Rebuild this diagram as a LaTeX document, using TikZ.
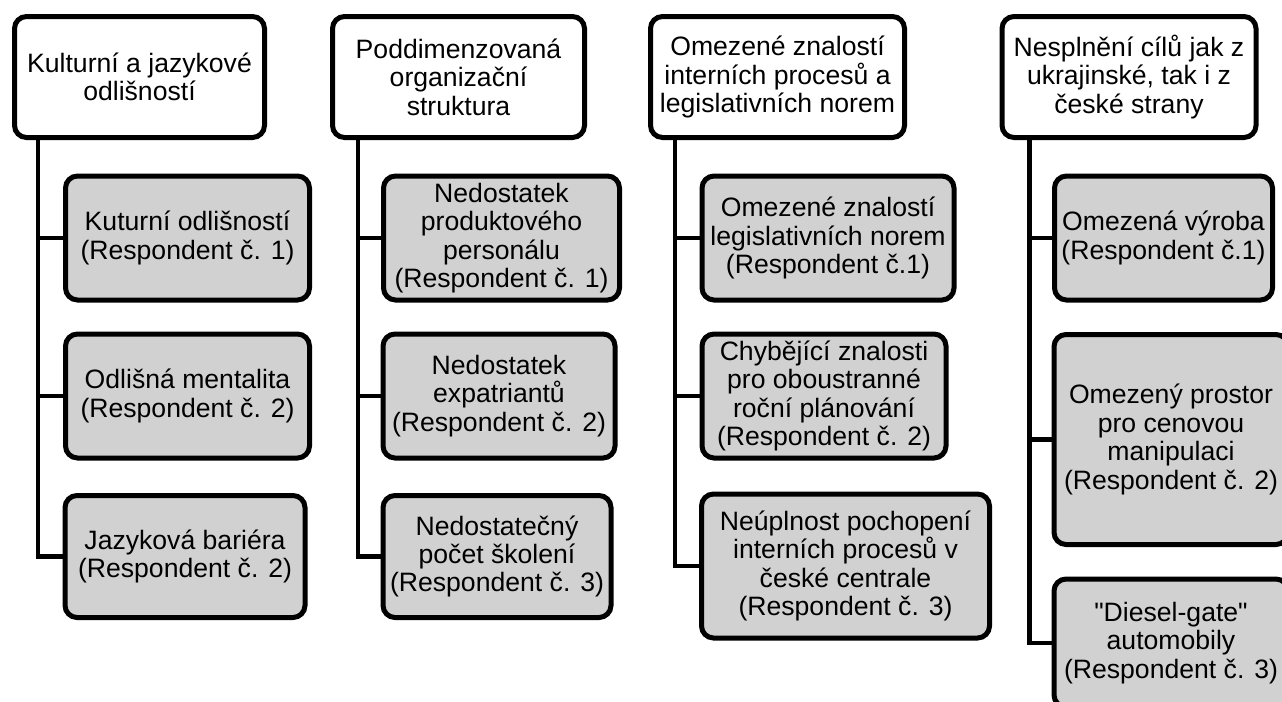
\documentclass[tikz,border=0pt]{standalone}
\usepackage{fontspec}
\setmainfont{Liberation Sans}[Ligatures=TeXOff]
\usepackage{tikz}

\begin{document}
\begin{tikzpicture}[x=0.5pt,y=-0.5pt,
  head/.style={draw,line width=2.5pt,rounded corners=6pt,fill=white,align=center,inner sep=0pt,font=\fontsize{13.3}{14.2}\selectfont},
  item/.style={head,fill=black!18},
  link/.style={line width=2.3pt}]
\useasboundingbox (0,0) rectangle (1282,702);
\node[head,minimum width=125pt,minimum height=60.5pt] (A) at (139.5,77) {Kulturní a jazykové\\odlišností};
\node[item,minimum width=122pt,minimum height=62pt] (A1) at (187.5,238) {Kuturní odlišností\\(Respondent č. 1)};
\node[item,minimum width=122pt,minimum height=62pt] (A2) at (187.5,396) {Odlišná mentalita\\(Respondent č. 2)};
\node[item,minimum width=120pt,minimum height=61pt] (A3) at (185,556.5) {Jazyková bariéra\\(Respondent č. 2)};
\node[head,minimum width=126pt,minimum height=60.5pt] (B) at (458.5,77) {Poddimenzovaná\\organizační\\struktura};
\node[item,minimum width=118pt,minimum height=62pt] (B1) at (501.5,238) {Nedostatek\\produktového\\personálu\\(Respondent č. 1)};
\node[item,minimum width=116pt,minimum height=62pt] (B2) at (499,396) {Nedostatek\\expatriantů\\(Respondent č. 2)};
\node[item,minimum width=114pt,minimum height=61pt] (B3) at (497,556.5) {Nedostatečný\\počet školení\\(Respondent č. 3)};
\node[head,minimum width=127pt,minimum height=60.5pt] (C) at (777.5,77) {Omezené znalostí\\interních procesů a\\legislativních norem};
\node[item,minimum width=126pt,minimum height=62pt] (C1) at (828,238) {Omezené znalostí\\legislativních norem\\(Respondent č.1)};
\node[item,minimum width=122pt,minimum height=62pt] (C2) at (824,396) {Chybějící znalosti\\pro oboustranné\\roční plánování\\(Respondent č. 2)};
\node[item,minimum width=144pt,minimum height=72pt] (C3) at (845.5,566) {Neúplnost pochopení\\interních procesů v\\české centrale\\(Respondent č. 3)};
\node[head,minimum width=127pt,minimum height=60.5pt] (D) at (1129,77) {Nesplnění cílů jak z\\ukrajinské, tak i z\\české strany};
\node[item,minimum width=109pt,minimum height=62pt] (D1) at (1163.5,238) {Omezená výroba\\(Respondent č.1)};
\node[item,minimum width=117pt,minimum height=105pt] (D2) at (1171,439.5) {Omezený prostor\\pro cenovou\\manipulaci\\(Respondent č. 2)};
\node[item,minimum width=117pt,minimum height=64pt] (D3) at (1171,643) {"Diesel-gate"\\automobily\\(Respondent č. 3)};
\draw[link] ([xshift=13pt]A.south west) |- (A1.west);
\draw[link] ([xshift=13pt]A.south west) |- (A2.west);
\draw[link] ([xshift=13pt]A.south west) |- (A3.west);
\draw[link] ([xshift=14pt]B.south west) |- (B1.west);
\draw[link] ([xshift=14pt]B.south west) |- (B2.west);
\draw[link] ([xshift=14pt]B.south west) |- (B3.west);
\draw[link] ([xshift=13.5pt]C.south west) |- (C1.west);
\draw[link] ([xshift=13.5pt]C.south west) |- (C2.west);
\draw[link] ([xshift=13.5pt]C.south west) |- (C3.west);
\draw[link] ([xshift=15pt]D.south west) |- (D1.west);
\draw[link] ([xshift=15pt]D.south west) |- (D2.west);
\draw[link] ([xshift=15pt]D.south west) |- (D3.west);
\end{tikzpicture}
\end{document}
